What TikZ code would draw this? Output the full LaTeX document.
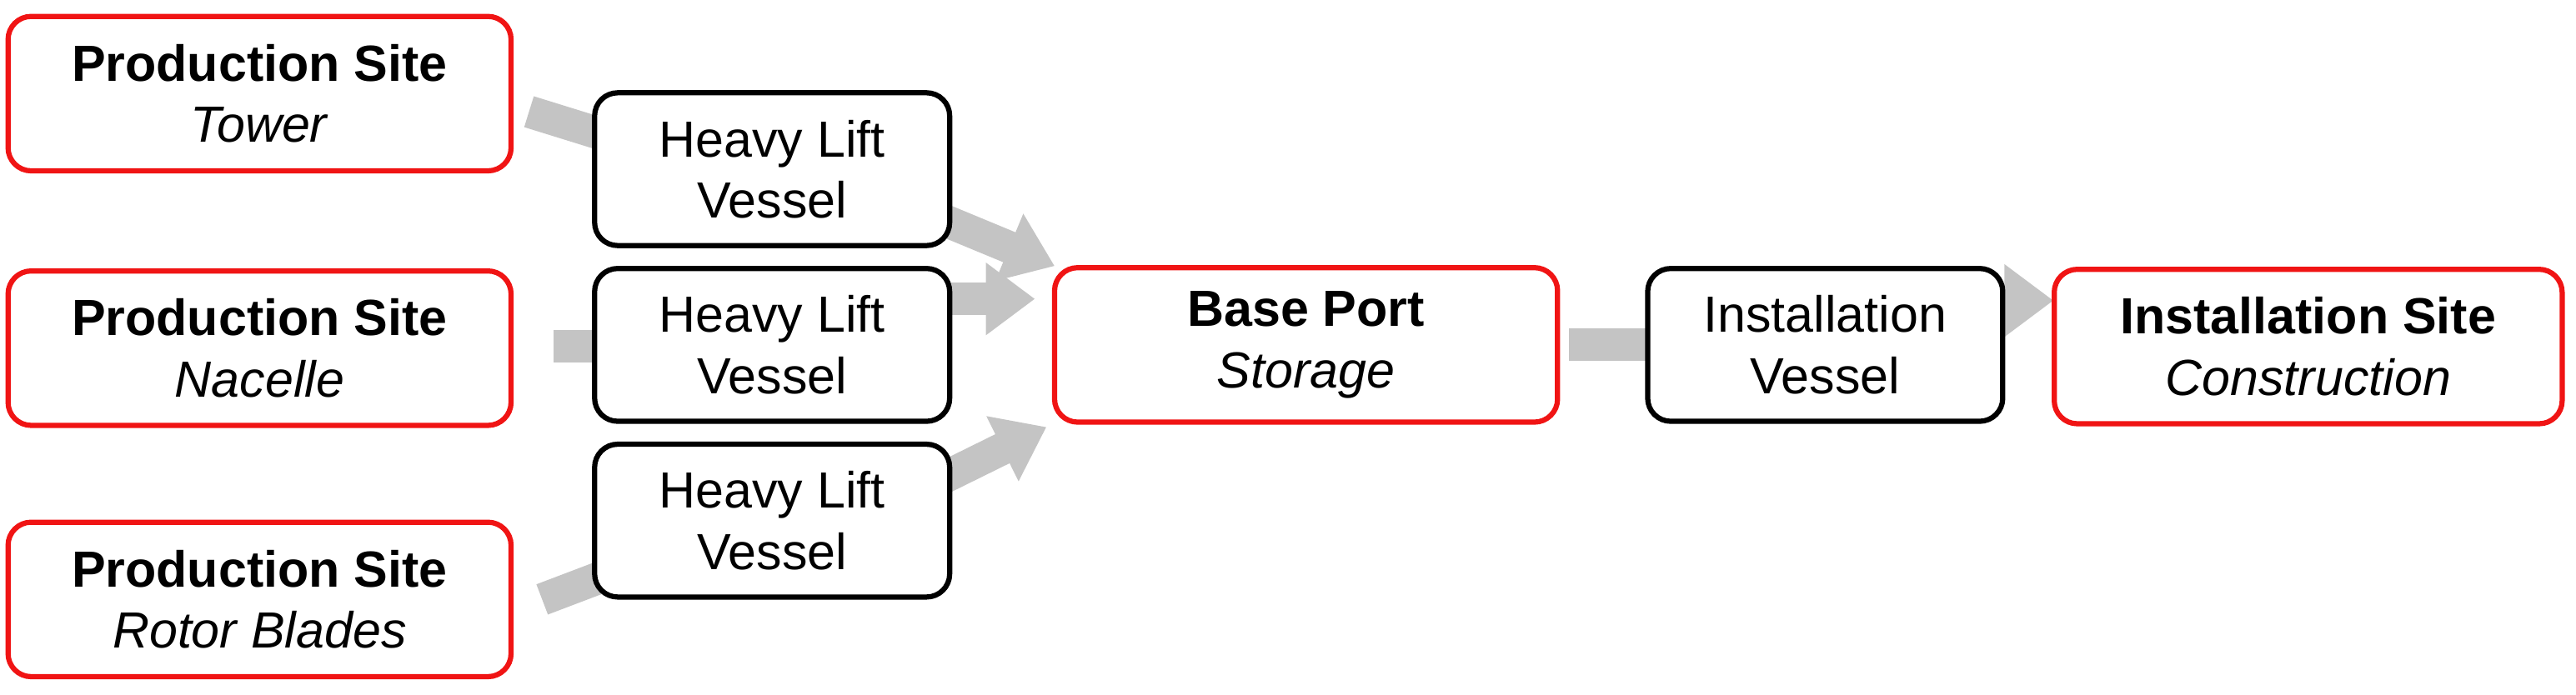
\documentclass[tikz,border=0pt]{standalone}
\usepackage{fontspec}
\setmainfont{Liberation Sans}
\usetikzlibrary{arrows.meta}
\definecolor{rd}{RGB}{240,20,20}
\definecolor{ar}{RGB}{196,196,196}
\begin{document}
\begin{tikzpicture}[x=0.01cm,y=-0.01cm,
  box/.style={draw=#1,line width=0.9pt,rounded corners=4pt,fill=white,align=center,inner sep=0pt,font=\fontsize{8.8}{10.6}\selectfont},
  site/.style={box=rd,minimum width=3.06cm,minimum height=0.94cm},
  ves/.style={box=black,minimum width=2.16cm,minimum height=0.93cm},
  arr/.style={draw=ar,line width=5.6pt,-{Triangle[length=8.5pt,width=12pt]}},
  ln/.style={draw=ar,line width=5.6pt}]
\useasboundingbox (0,0) rectangle (1568,423);
% arrows behind
\coordinate (a1) at (322,68); \coordinate (a1e) at (380,86);
\coordinate (b1) at (560,128); \coordinate (b1e) at (642,162);
\coordinate (a2) at (337,211); \coordinate (a2e) at (380,211);
\coordinate (b2) at (560,182); \coordinate (b2e) at (630,182);
\coordinate (a3) at (330,365); \coordinate (a3e) at (380,346);
\coordinate (b3) at (560,298); \coordinate (b3e) at (637,260);
\coordinate (c1) at (955,210); \coordinate (c1e) at (1020,210);
\coordinate (c2) at (1200,183); \coordinate (c2e) at (1250,183);
\draw[ln] (a1) -- (a1e); \draw[arr] (b1) -- (b1e);
\draw[ln] (a2) -- (a2e); \draw[arr] (b2) -- (b2e);
\draw[ln] (a3) -- (a3e); \draw[arr] (b3) -- (b3e);
\draw[ln] (c1) -- (c1e); \draw[arr] (c2) -- (c2e);
% nodes
\node[site] (p1) at (158,57) {\textbf{Production Site}\\\textit{Tower}};
\node[site] (p2) at (158,212) {\textbf{Production Site}\\\textit{Nacelle}};
\node[site] (p3) at (158,365) {\textbf{Production Site}\\\textit{Rotor Blades}};
\node[ves] (h1) at (470,103) {Heavy Lift\\Vessel};
\node[ves] (h2) at (470,210) {Heavy Lift\\Vessel};
\node[ves] (h3) at (470,317) {Heavy Lift\\Vessel};
\node[site] (bp) at (795,210) {\textbf{Base Port}\\\textit{Storage}};
\node[ves] (iv) at (1111,210) {Installation\\Vessel};
\node[site,minimum width=3.09cm] (is) at (1405,211) {\textbf{Installation Site}\\\textit{Construction}};
\end{tikzpicture}
\end{document}
